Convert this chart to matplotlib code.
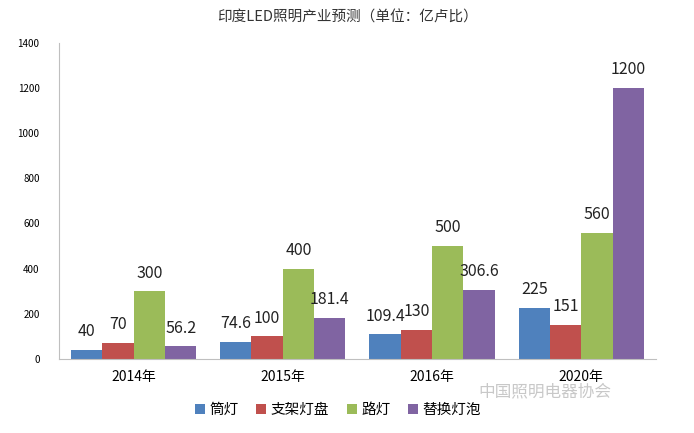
import matplotlib
matplotlib.use("Agg")
from matplotlib import pyplot as plt
import numpy as np

plt.rcParams['font.family'] = ['Noto Sans CJK SC', 'DejaVu Sans']

years = ["2014年", "2015年", "2016年", "2020年"]
series_names = ["筒灯", "支架灯盘", "路灯", "替换灯泡"]
tongdeng = [40, 74.6, 109.4, 225]
zhijia = [70, 100, 130, 151]
ludeng = [300, 400, 500, 560]
tihuan = [56.2, 181.4, 306.6, 1200]
label_text = [
    ["40", "74.6", "109.4", "225"],
    ["70", "100", "130", "151"],
    ["300", "400", "500", "560"],
    ["56.2", "181.4", "306.6", "1200"],
]
colors = ["#4F81BD", "#C0504D", "#9BBB59", "#8064A2"]

fig = plt.figure(figsize=(6.94, 4.33), dpi=100)
ax = fig.add_axes([0.085, 0.171, 0.86, 0.73])

x = np.arange(len(years))
w = 0.21
for i, (vals, name) in enumerate(zip([tongdeng, zhijia, ludeng, tihuan], series_names)):
    bars = ax.bar(x + (i - 1.5) * w, vals, w, color=colors[i], label=name)
    ax.bar_label(bars, labels=label_text[i], padding=7, fontsize=11.5, color="#222222")

ax.set_xlim(-0.5, 3.5)
ax.set_ylim(0, 1400)
ax.set_yticks(np.arange(0, 1401, 200))
ax.tick_params(axis="y", length=0, labelsize=7, pad=14)
ax.tick_params(axis="x", length=0, labelsize=10, pad=8)
ax.set_xticks(x)
ax.set_xticklabels(years)
for s in ["top", "right"]:
    ax.spines[s].set_visible(False)
for s in ["left", "bottom"]:
    ax.spines[s].set_color("#BFBFBF")

fig.suptitle("印度LED照明产业预测（单位：亿卢比）", x=0.5, y=0.975, fontsize=10.5, color="#333333")

fig.legend(loc="center", bbox_to_anchor=(0.487, 0.053), ncol=4, frameon=False,
           handlelength=0.7, handleheight=0.7, handletextpad=0.3, columnspacing=1.2,
           fontsize=10.5)

fig.text(0.69, 0.085, "中国照明电器协会", fontsize=12, color="#BBBBBB", alpha=0.8)

fig.savefig("out.png", dpi=100)
